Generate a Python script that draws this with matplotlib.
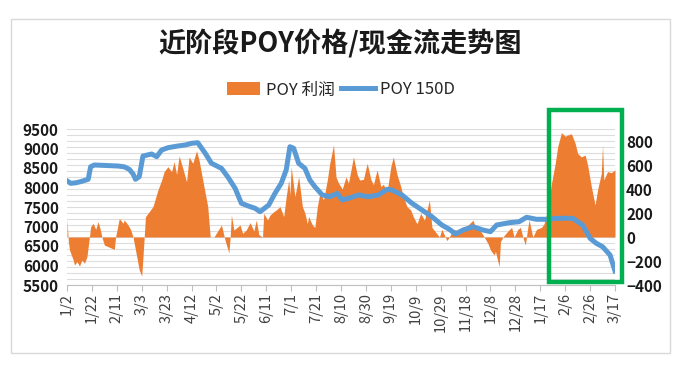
import numpy as np
import pandas as pd
import matplotlib
matplotlib.use("Agg")
import matplotlib.pyplot as plt
from matplotlib.patches import Rectangle, Patch
from matplotlib.lines import Line2D
from matplotlib.ticker import MultipleLocator, FixedLocator

plt.rcParams['font.family'] = ['Noto Sans CJK SC', 'DejaVu Sans']

start_date = "2019-01-02"

# POY 150D price (left axis), day offsets from start_date
price_day = [0, 3, 7, 11, 17, 19, 22, 41, 46, 50, 53, 55, 58, 61, 68, 72, 76, 81, 89, 95,
             100, 105, 111, 116, 124, 129, 135, 140, 146, 151, 155, 162, 167, 172, 176, 179,
             182, 186, 191, 195, 199, 205, 211, 217, 221, 226, 234, 242, 250, 257, 261, 269,
             277, 285, 293, 301, 307, 312, 318, 326, 334, 340, 345, 355, 363, 369, 377, 385,
             393, 406, 414, 420, 425, 430, 436, 440]
price_150d = [8170, 8107, 8120, 8150, 8210, 8533, 8577, 8551, 8530, 8466, 8350, 8210, 8277,
              8808, 8859, 8790, 8961, 9020, 9064, 9090, 9133, 9149, 8877, 8620, 8492, 8277,
              7979, 7595, 7520, 7467, 7380, 7551, 7851, 8107, 8449, 9046, 9005, 8620, 8492,
              8192, 8020, 7808, 7764, 7851, 7679, 7723, 7808, 7764, 7808, 7954, 7936, 7808,
              7595, 7423, 7251, 7038, 6928, 6808, 6910, 6995, 6910, 6867, 7038, 7097, 7123,
              7236, 7185, 7185, 7210, 7210, 7038, 6697, 6569, 6482, 6269, 5860]

# POY profit (right axis)
profit_day = [0, 1, 2, 5, 6, 8, 10, 12, 14, 16, 18, 19, 21, 23, 25, 27, 28, 30, 34, 38, 39,
              42, 45, 46, 49, 51, 53, 55, 58, 60, 61, 62, 63, 66, 69, 73, 76, 78, 81, 84, 86,
              88, 90, 93, 96, 98, 101, 104, 106, 110, 113, 115, 118, 121, 124, 127, 130, 131,
              132, 134, 139, 141, 144, 147, 150, 152, 154, 157, 158, 161, 163, 166, 168, 171,
              174, 176, 178, 179, 180, 183, 186, 189, 191, 193, 194, 197, 199, 201, 203, 206,
              209, 211, 214, 216, 218, 221, 224, 226, 230, 233, 235, 238, 241, 244, 246, 249,
              252, 254, 257, 260, 262, 265, 268, 270, 273, 276, 278, 281, 284, 287, 291, 293,
              296, 299, 301, 305, 307, 310, 316, 322, 326, 328, 332, 335, 338, 340, 343, 344,
              347, 348, 350, 354, 357, 359, 362, 364, 366, 368, 370, 371, 374, 377, 381, 383,
              386, 389, 392, 394, 397, 400, 402, 405, 408, 410, 413, 416, 418, 421, 424, 426,
              429, 430, 431, 434, 437, 440]
profit = [150, -25, -108, -192, -233, -206, -242, -192, -219, -164, 0, 86, 114, 64, 128, 50, 0,
          -67, -85, -103, 0, 156, 114, 142, 100, 64, 0, -108, -275, -325, -164, 0, 170, 211,
          253, 392, 475, 545, 586, 545, 628, 520, 675, 572, 460, 667, 614, 719, 641, 419, 253,
          0, 0, 50, 100, -30, -133, 0, 183, 58, 100, 30, 60, 120, 50, 142, 20, 0, 197, 142,
          183, 211, 225, 253, 170, 336, 475, 350, 586, 336, 503, 253, 200, 110, 170, 100, 80,
          253, 364, 310, 475, 614, 767, 500, 450, 400, 500, 450, 667, 520, 475, 480, 614, 480,
          436, 560, 420, 440, 375, 586, 667, 520, 420, 336, 253, 225, 170, 110, 197, 140, 308,
          80, 40, 0, 64, -30, 0, 64, 50, 100, 140, 80, 50, 0, -55, -108, -150, -120, -247, -40,
          0, 50, 80, 0, 64, 80, 0, -67, 80, 142, 0, 64, 80, 110, 225, 447, 614, 753, 870, 840,
          850, 860, 781, 697, 667, 683, 600, 420, 267, 392, 530, 767, 475, 545, 536, 560]

tick_labels = ['1/2', '1/22', '2/11', '3/3', '3/23', '4/12', '5/2', '5/22', '6/11', '7/1',
               '7/21', '8/10', '8/30', '9/19', '10/9', '10/29', '11/18', '12/8', '12/28',
               '1/17', '2/6', '2/26', '3/17']

title = '近阶段POY价格/现金流走势图'
label_profit = 'POY 利润'
label_price = 'POY 150D'

ORANGE = '#ED7D31'
BLUE = '#5B9BD5'
GREEN = '#00B050'
GRID = '#DDDDDD'

start = pd.Timestamp(start_date)
x_price = start + pd.to_timedelta(price_day, unit='D')
x_profit = start + pd.to_timedelta(profit_day, unit='D')
tick_dates = pd.date_range(start, periods=len(tick_labels), freq='20D')

W, H = 681, 366
fig = plt.figure(figsize=(W / 100, H / 100), dpi=100)

L, R, T, B = 67, 615, 129, 285
ax = fig.add_axes([L / W, 1 - B / H, (R - L) / W, (B - T) / H])
ax2 = ax.twinx()
ax.set_zorder(2)
ax2.set_zorder(1)
ax.patch.set_visible(False)

# profit area (right axis)
ax2.fill_between(x_profit, 0, profit, color=ORANGE, lw=0)
ax2.set_ylim(-400, 900)
ax2.yaxis.set_major_locator(FixedLocator(np.arange(-400, 801, 200)))
ax2.yaxis.set_minor_locator(MultipleLocator(50))
ax2.grid(True, which='both', axis='y', color=GRID, lw=0.8)
ax2.set_axisbelow(True)
ax2.tick_params(axis='y', which='both', length=0, pad=8)
for lab in ax2.get_yticklabels():
    lab.set_fontweight('bold')
    lab.set_fontsize(11)
    lab.set_color('#1a1a1a')

# price line (left axis)
ax.plot(x_price, price_150d, color=BLUE, lw=3.6, solid_joinstyle='round')
ax.set_ylim(5500, 9500)
ax.set_yticks(np.arange(5500, 9501, 500))
ax.tick_params(axis='y', length=0, pad=6)
for lab in ax.get_yticklabels():
    lab.set_fontweight('bold')
    lab.set_fontsize(11)
    lab.set_color('#1a1a1a')

ax.set_xlim(start, start + pd.Timedelta(days=440))
ax.set_xticks(tick_dates)
ax.set_xticklabels(tick_labels, rotation=90, fontsize=10.5, color='#404040')
ax.tick_params(axis='x', length=4, color='#BFBFBF', pad=2)

for a in (ax, ax2):
    for s in a.spines.values():
        s.set_visible(False)
ax.spines['bottom'].set_visible(True)
ax.spines['bottom'].set_color('#BFBFBF')

# title and legend
fig.text(0.5, 1 - 43 / H, title, ha='center', va='center', fontsize=19.5, fontweight='bold',
         color='#1a1a1a')
handles = [Patch(facecolor=ORANGE, edgecolor='none', label=label_profit),
           Line2D([], [], color=BLUE, lw=3.6, label=label_price)]
fig.legend(handles=handles, loc='center', bbox_to_anchor=(341 / W, 1 - 90 / H), ncol=2,
           frameon=False, fontsize=12, handlelength=2.0, handleheight=0.8,
           columnspacing=0.4, handletextpad=0.35, labelcolor='#262626')

# outer border and green highlight box
fig.add_artist(Rectangle((11 / W, 1 - 353 / H), (670 - 11) / W, (353 - 19) / H,
                         transform=fig.transFigure, fill=False, ec='#D9D9D9', lw=1))
fig.add_artist(Rectangle((549 / W, 1 - 282 / H), (622 - 549) / W, (282 - 110) / H,
                         transform=fig.transFigure, fill=False, ec=GREEN, lw=3.2, zorder=10))

fig.savefig('out.png', dpi=100)
